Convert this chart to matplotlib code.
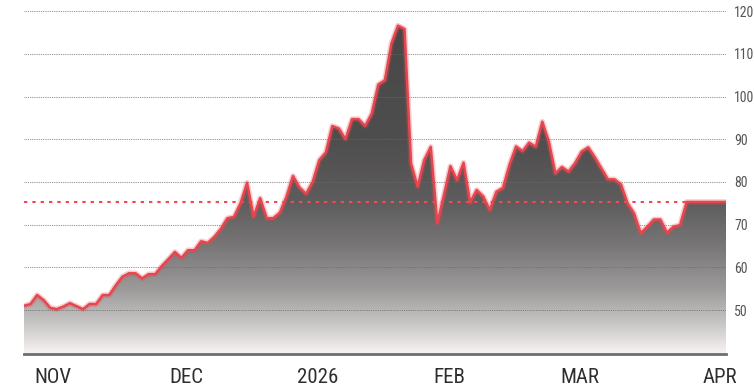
import numpy as np
import matplotlib; matplotlib.use('Agg'); import matplotlib.pyplot as plt
from matplotlib.patches import PathPatch

plt.rcParams['font.family'] = ['Liberation Sans Narrow', 'Roboto Condensed', 'DejaVu Sans Condensed', 'Roboto', 'DejaVu Sans']

# daily closes, oldest first
prices = [51.0, 51.4, 53.5, 52.3, 50.5, 50.2, 50.8, 51.6, 50.9, 50.2,
          51.4, 51.4, 53.5, 53.5, 55.8, 57.8, 58.6, 58.6, 57.4, 58.4,
          58.4, 60.3, 61.9, 63.6, 62.2, 64.0, 64.0, 66.1, 65.7, 67.1,
          69.0, 71.5, 71.8, 75.0, 79.8, 71.9, 76.2, 71.5, 71.5, 72.8,
          76.5, 81.4, 78.7, 77.2, 80.0, 85.1, 86.9, 93.1, 92.5, 90.0,
          94.7, 94.7, 93.1, 96.0, 102.8, 103.8, 112.4, 116.6, 115.8, 84.3,
          78.9, 85.1, 88.2, 70.3, 76.9, 83.7, 80.4, 84.5, 75.2, 78.1,
          76.6, 73.4, 77.7, 78.6, 84.0, 88.3, 87.2, 89.2, 88.2, 94.1,
          89.4, 82.0, 83.5, 82.4, 84.4, 87.1, 88.1, 85.8, 83.2, 80.6,
          80.6, 79.4, 75.0, 72.6, 68.0, 69.5, 71.2, 71.2, 68.1, 69.5,
          69.9, 75.3, 75.3, 75.3, 75.3, 75.3, 75.3, 75.3]
ref_level = 75.3
month_labels = ['NOV', 'DEC', '2026', 'FEB', 'MAR', 'APR']
month_pos = [4.4, 24.7, 44.7, 64.8, 84.7, 106.0]
y_ticks = [50, 60, 70, 80, 90, 100, 110, 120]

RED = '#e8464f'
x = np.arange(len(prices))
y = np.array(prices)
YLO, YHI = 39.7, 122.6

fig = plt.figure(figsize=(7.54, 3.88), dpi=100)
ax = fig.add_axes([24/754, 34/388, 702/754, 354/388])
ax.set_xlim(0, len(prices)-1); ax.set_ylim(YLO, YHI)

# gradient fill clipped to the area under the line
stops_v = [YLO, 47, 55, 65, 75, 90, YHI]
stops_c = [0.97, 0.78, 0.61, 0.47, 0.37, 0.31, 0.28]
gv = np.linspace(YHI, YLO, 400)
g = np.interp(gv, stops_v, stops_c)
img = np.stack([g, g*0.985, g*0.985], axis=-1)[:, None, :].repeat(2, axis=1)
im = ax.imshow(img, extent=[0, len(prices)-1, YLO, YHI], aspect='auto', zorder=1, interpolation='bilinear')
poly = ax.fill_between(x, YLO, y, color='none', lw=0)
clip = PathPatch(poly.get_paths()[0], transform=ax.transData, facecolor='none', edgecolor='none')
ax.add_patch(clip); im.set_clip_path(clip)

ax.plot(x, y, color=RED, lw=4.0, alpha=0.28, zorder=3, solid_joinstyle='round')
ax.plot(x, y, color=RED, lw=1.8, zorder=4, solid_joinstyle='round')
ax.axhline(ref_level, color='#ef4a56', lw=1.5, ls=(0, (1.6, 2.4)), zorder=3)

ax.set_axisbelow('line')
ax.grid(axis='y', color='#6a6a6a', lw=0.6, ls=(0, (1, 1.2)))
ax.grid(axis='x', visible=False)
for s in ['top', 'left', 'right']: ax.spines[s].set_visible(False)
ax.spines['bottom'].set_color('#6e6e6e'); ax.spines['bottom'].set_linewidth(2); ax.spines['bottom'].set_zorder(5)

ax.yaxis.tick_right()
ax.set_yticks(y_ticks); ax.set_yticklabels([str(v) for v in y_ticks])
ax.tick_params(axis='y', length=0, pad=6, labelsize=10, labelcolor='#555555')
ax.set_xticks(month_pos); ax.set_xticklabels(month_labels)
ax.tick_params(axis='x', length=0, pad=10, labelsize=15, labelcolor='#2e2e2e')

fig.savefig('out.png', dpi=100)
